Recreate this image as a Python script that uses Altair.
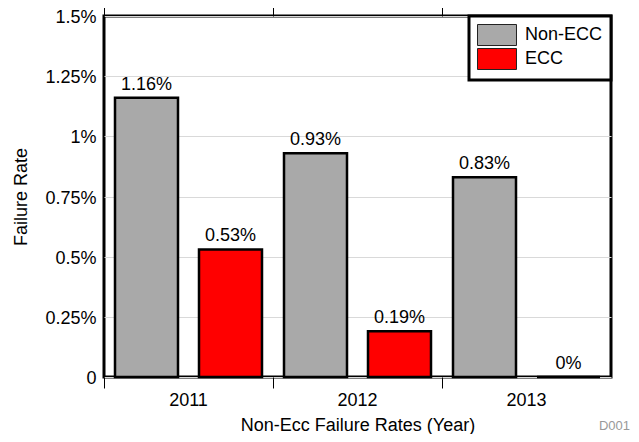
import altair as alt
import pandas as pd

years = ["2011", "2012", "2013"]
series = ["Non-ECC", "ECC"]
non_ecc = [1.16, 0.93, 0.83]
ecc = [0.53, 0.19, 0.0]
colors = ["#a9a9a9", "#ff0000"]
y_ticks = [0, 0.25, 0.5, 0.75, 1.0, 1.25, 1.5]
note = ["D001"]

rows = []
for i, yr in enumerate(years):
    rows.append({"year": yr, "series": "Non-ECC", "rate": non_ecc[i]})
    rows.append({"year": yr, "series": "ECC", "rate": ecc[i]})
df = pd.DataFrame(rows)

FONT = "Liberation Sans"

xscale = alt.Scale(domain=years, paddingInner=0, paddingOuter=0)
xoff = alt.XOffset("series:N", sort=series,
                   scale=alt.Scale(domain=series, paddingInner=0.25, paddingOuter=0.131))
yscale = alt.Scale(domain=[0, 1.5], nice=False)
color = alt.Color("series:N", sort=series,
                  scale=alt.Scale(domain=series, range=colors),
                  legend=alt.Legend(title=None, orient="top-right", offset=0))

bars = alt.Chart(df).mark_bar(stroke="black", strokeWidth=2.5).encode(
    x=alt.X("year:N", sort=years, scale=xscale,
            axis=alt.Axis(orient="bottom", title="Non-Ecc Failure Rates (Year)",
                          bandPosition=0, tickSize=11, tickColor="black", domain=False,
                          labelAngle=0, labelFontSize=18, labelPadding=17,
                          labelBaseline="alphabetic", labelColor="black", labelFont=FONT,
                          titleFontSize=18, titleFontWeight="normal", titleFont=FONT,
                          titleColor="black", titleY=53, titleBaseline="alphabetic",
                          grid=False)),
    xOffset=xoff,
    y=alt.Y("rate:Q", scale=yscale,
            axis=alt.Axis(title="Failure Rate", values=y_ticks, ticks=False, tickSize=0,
                          domain=False, labelPadding=8, labelFontSize=18, labelFont=FONT,
                          labelColor="black", labelOffset=1.5,
                          labelExpr="datum.value == 0 ? '0' : format(datum.value, '.3~f') + '%'",
                          titleFontSize=18, titleFontWeight="normal", titleFont=FONT,
                          titleColor="black", titleX=-78, titleBaseline="alphabetic",
                          grid=True, gridColor="#d9d9d9", gridWidth=1)),
    color=color,
)

labels = alt.Chart(df).transform_calculate(
    label="toString(datum.rate) + '%'"
).mark_text(dy=-8, baseline="alphabetic", fontSize=18, font=FONT, color="black").encode(
    x=alt.X("year:N", sort=years, scale=xscale,
            axis=alt.Axis(orient="top", labels=False, title=None, domain=False,
                          ticks=True, tickSize=11, tickColor="black", bandPosition=0,
                          grid=False)),
    xOffset=xoff,
    y=alt.Y("rate:Q", scale=yscale),
    text="label:N",
)

tag = alt.Chart(pd.DataFrame({"t": note})).mark_text(
    align="right", baseline="alphabetic", fontSize=13, font=FONT, color="#999999"
).encode(x=alt.value(526), y=alt.value(414), text="t:N")

chart = alt.layer(bars, labels, tag).resolve_axis(x="independent").properties(
    width=507, height=361,
    autosize=alt.AutoSizeParams(type="none"),
    padding={"left": 96, "top": 8, "right": 20, "bottom": 57},
).configure_view(
    stroke="black", strokeWidth=3
).configure_legend(
    strokeColor="black", strokeWidth=3, fillColor="white", padding=8,
    rowPadding=-4, labelFontSize=18, labelFont=FONT, labelColor="black",
    labelOffset=17, symbolOffset=9,
    symbolType="M-1.857,-1H1.857V1H-1.857Z", symbolSize=441,
    symbolStrokeColor="#222222", symbolStrokeWidth=1, symbolOpacity=1,
)

chart.save("out.html", embed_options={"renderer": "svg", "actions": False})
